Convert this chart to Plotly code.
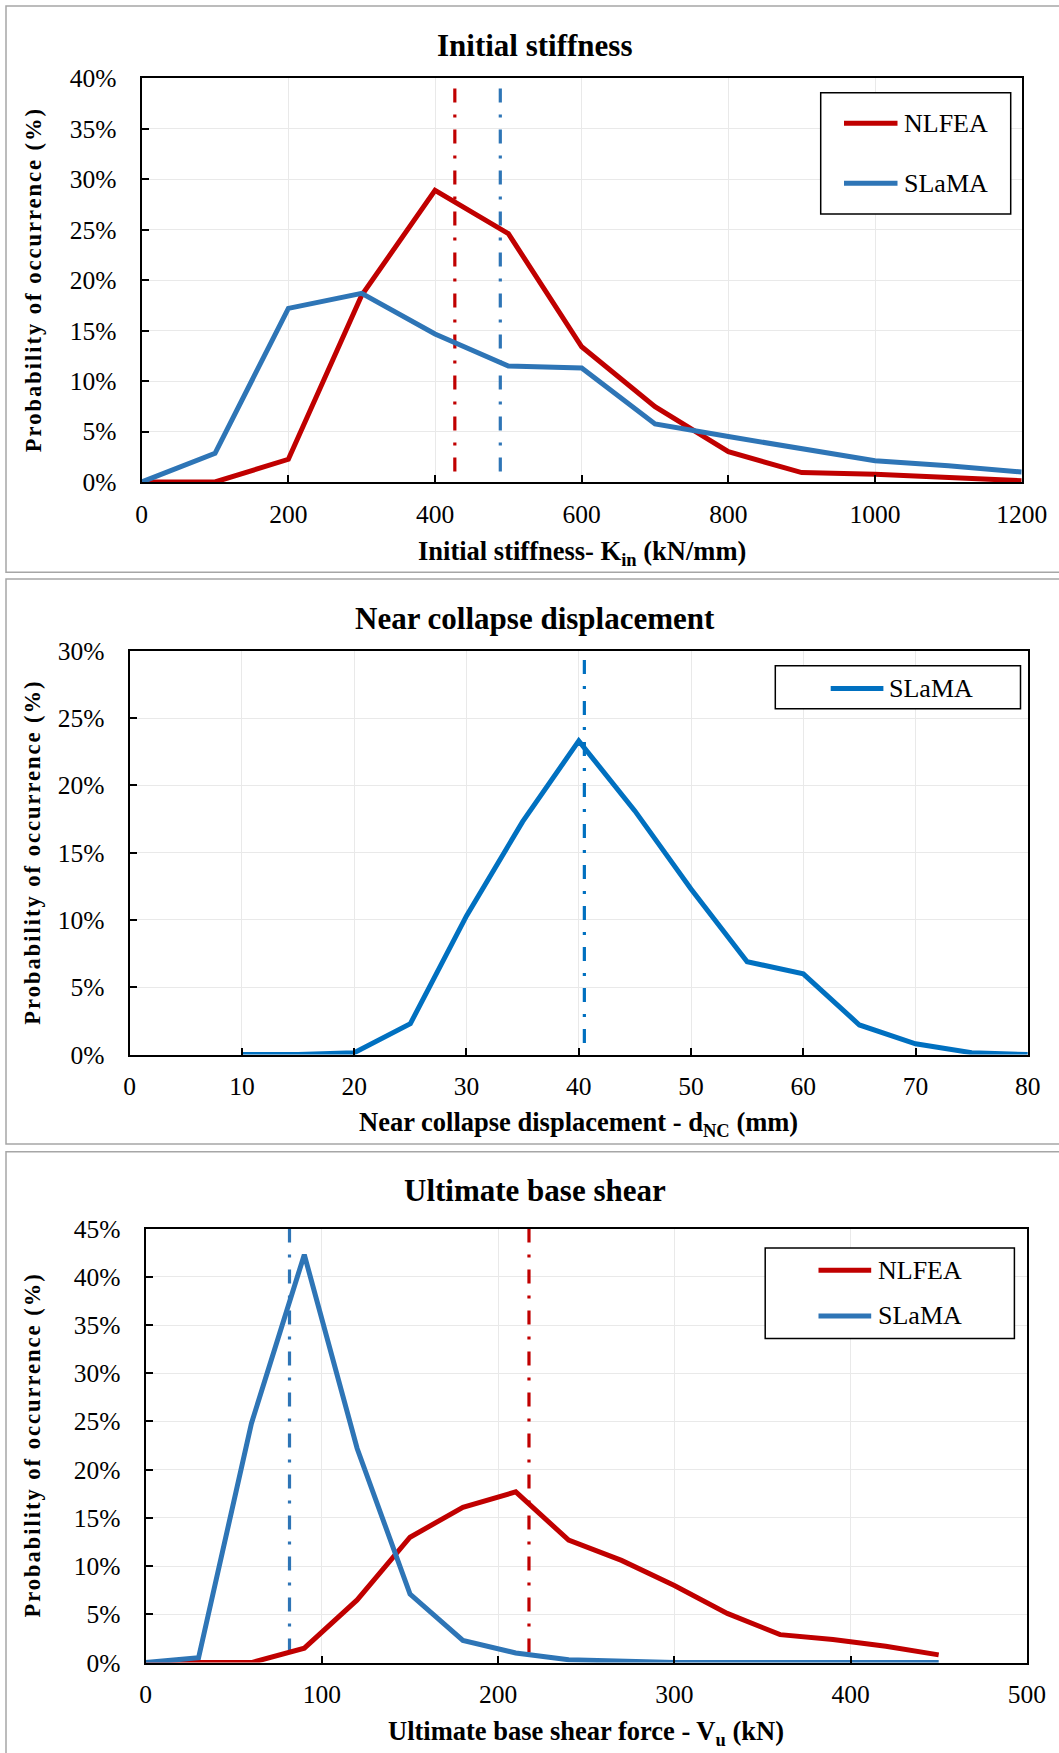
import plotly.graph_objects as go

W, H = 1059, 1753

# ---------------- data ----------------
# Panel 1: Initial stiffness
k_x = [0, 100, 200, 300, 400, 500, 600, 700, 800, 900, 1000, 1100, 1200]
k_nlfea = [0.0, 0.0, 2.25, 18.5, 28.9, 24.6, 13.4, 7.46, 3.0, 0.93, 0.76, 0.45, 0.13]
k_slama = [0.0, 2.84, 17.2, 18.7, 14.67, 11.5, 11.3, 5.75, 4.5, 3.24, 2.1, 1.6, 0.99]
k_mean_nlfea = 427
k_mean_slama = 489
k_mean_top = 39

# Panel 2: Near collapse displacement
d_x = [10, 15, 20, 25, 30, 35, 40, 45, 50, 55, 60, 65, 70, 75, 80]
d_slama = [0.0, 0.0, 0.14, 2.3, 10.3, 17.3, 23.3, 18.1, 12.3, 6.9, 6.0, 2.2, 0.8, 0.14, 0.0]
d_mean_slama = 40.5
d_mean_top = 29.3

# Panel 3: Ultimate base shear
v_x = [0, 30, 60, 90, 120, 150, 180, 210, 240, 270, 300, 330, 360, 390, 420, 450]
v_nlfea = [0.0, 0.0, 0.0, 1.5, 6.5, 13.0, 16.1, 17.7, 12.7, 10.6, 8.0, 5.1, 2.9, 2.4, 1.7, 0.8]
v_slama = [0.0, 0.5, 24.8, 42.3, 22.2, 7.1, 2.3, 1.0, 0.3, 0.1, 0.0, 0.0, 0.0, 0.0, 0.0, 0.0]
v_mean_nlfea = 217.5
v_mean_slama = 81.6
v_mean_top = 45

titles = ["Initial stiffness", "Near collapse displacement", "Ultimate base shear"]
xtitles = ["Initial stiffness- K<sub>in</sub> (kN/mm)",
           "Near collapse displacement - d<sub>NC</sub> (mm)",
           "Ultimate base shear force - V<sub>u</sub> (kN)"]
ytitle = "Probability of occurrence (%)"

RED = "#C00000"
BLUE = "#2E75B6"
BLUE2 = "#0070C0"
SERIF = "Liberation Serif, 'Times New Roman', Times, serif"

# ---------------- helpers ----------------
def px(p):
    return p / W

def py(p):
    return 1 - p / H

DASH = "14px,12px,3px,12px"

fig = go.Figure()

def line_trace(x, y, color, name, ax):
    return go.Scatter(x=x, y=y, mode="lines", name=name,
                      line=dict(color=color, width=5),
                      xaxis="x" + ax, yaxis="y" + ax, showlegend=False,
                      hoverinfo="x+y")

def mean_trace(xm, top, color, ax):
    # drawn from the top down so the dash pattern starts with a dash at the top
    return go.Scatter(x=[xm, xm], y=[top, 0], mode="lines",
                      line=dict(color=color, width=3.2, dash=DASH),
                      xaxis="x" + ax, yaxis="y" + ax, showlegend=False,
                      hoverinfo="skip")

# panel 1
fig.add_trace(mean_trace(k_mean_nlfea, k_mean_top, RED, ""))
fig.add_trace(mean_trace(k_mean_slama, k_mean_top, BLUE, ""))
fig.add_trace(line_trace(k_x, k_nlfea, RED, "NLFEA", ""))
fig.add_trace(line_trace(k_x, k_slama, BLUE, "SLaMA", ""))
# panel 2
fig.add_trace(mean_trace(d_mean_slama, d_mean_top, BLUE2, "2"))
fig.add_trace(line_trace(d_x, d_slama, BLUE2, "SLaMA", "2"))
# panel 3
fig.add_trace(mean_trace(v_mean_slama, v_mean_top, BLUE, "3"))
fig.add_trace(mean_trace(v_mean_nlfea, v_mean_top, RED, "3"))
fig.add_trace(line_trace(v_x, v_nlfea, RED, "NLFEA", "3"))
fig.add_trace(line_trace(v_x, v_slama, BLUE, "SLaMA", "3"))

tickfont = dict(family=SERIF, size=25.5, color="black")

def xaxis(dom, rng, dtick, anchor):
    return dict(domain=[px(dom[0]), px(dom[1])], range=rng, dtick=dtick, tick0=0,
                anchor=anchor, showline=True, linecolor="black", linewidth=2,
                mirror=True, ticks="inside", ticklen=7, tickwidth=1.5,
                tickcolor="black", showgrid=True, gridcolor="#E9E9E9",
                gridwidth=1, zeroline=False, tickfont=tickfont,
                ticklabelstandoff=8, automargin=False, fixedrange=True)

def yaxis(dom, rng, dtick, anchor):
    return dict(domain=[py(dom[1]), py(dom[0])], range=rng, dtick=dtick, tick0=0,
                anchor=anchor, showline=True, linecolor="black", linewidth=2,
                mirror=True, ticks="inside", ticklen=7, tickwidth=1.5,
                tickcolor="black", showgrid=True, gridcolor="#E9E9E9",
                gridwidth=1, zeroline=False, tickfont=tickfont,
                ticksuffix="%", ticklabelstandoff=18, automargin=False,
                fixedrange=True)

# plot-area pixel boxes (left, right) / (top, bottom)
P1x, P1y = (141.7, 1021.7), (78.3, 482.0)
P2x, P2y = (129.7, 1027.8), (650.7, 1054.6)
P3x, P3y = (145.7, 1026.8), (1228.6, 1662.6)

fig.update_layout(
    width=W, height=H, autosize=False,
    margin=dict(l=0, r=0, t=0, b=0, pad=0, autoexpand=False),
    paper_bgcolor="white", plot_bgcolor="white",
    showlegend=False,
    xaxis=xaxis(P1x, [0, 1200], 200, "y"),
    yaxis=yaxis(P1y, [0, 40], 5, "x"),
    xaxis2=xaxis(P2x, [0, 80], 10, "y2"),
    yaxis2=yaxis(P2y, [0, 30], 5, "x2"),
    xaxis3=xaxis(P3x, [0, 500], 100, "y3"),
    yaxis3=yaxis(P3y, [0, 45], 5, "x3"),
)

shapes = []
annotations = []

# panel frames
for (y0, y1) in [(6, 572.3), (579, 1144), (1151.7, 1775)]:
    shapes.append(dict(type="rect", xref="paper", yref="paper",
                       x0=px(6), x1=px(1075), y0=py(y0), y1=py(y1),
                       line=dict(color="#A6A6A6", width=1.5), layer="below"))

# panel titles
for t, yc in zip(titles, [46, 618, 1190]):
    annotations.append(dict(text="<b>%s</b>" % t, x=px(534.5), y=py(yc),
                            xref="paper", yref="paper", showarrow=False,
                            xanchor="center", yanchor="middle",
                            font=dict(family=SERIF, size=31, color="black")))

# x axis titles
for t, xb, yc in zip(xtitles, [P1x, P2x, P3x], [553, 1124, 1733]):
    annotations.append(dict(text="<b>%s</b>" % t, x=px((xb[0] + xb[1]) / 2), y=py(yc),
                            xref="paper", yref="paper", showarrow=False,
                            xanchor="center", yanchor="middle",
                            font=dict(family=SERIF, size=26.5, color="black")))

# y axis titles
for yb in [P1y, P2y, P3y]:
    annotations.append(dict(text="<b>%s</b>" % ytitle, x=px(33), y=py((yb[0] + yb[1]) / 2),
                            xref="paper", yref="paper", showarrow=False,
                            textangle=-90, xanchor="center", yanchor="middle",
                            font=dict(family=SERIF, size=22.5, color="black")))

# legends (box, line samples, labels)
legends = [
    dict(box=(820.7, 1010.7, 92.7, 214.0), line=(844, 897.5), text_x=902,
         items=[("NLFEA", RED, 123.3), ("SLaMA", BLUE, 183.3)]),
    dict(box=(775.3, 1020.5, 665.8, 708.7), line=(830.7, 883.4), text_x=887,
         items=[("SLaMA", BLUE2, 688.4)]),
    dict(box=(765.2, 1014.4, 1247.9, 1338.6), line=(818.5, 871.2), text_x=876,
         items=[("NLFEA", RED, 1270.2), ("SLaMA", BLUE, 1315.9)]),
]
for lg in legends:
    x0, x1, y0, y1 = lg["box"]
    shapes.append(dict(type="rect", xref="paper", yref="paper",
                       x0=px(x0), x1=px(x1), y0=py(y0), y1=py(y1),
                       line=dict(color="black", width=1.5), fillcolor="white",
                       layer="above"))
    for name, col, yy in lg["items"]:
        shapes.append(dict(type="line", xref="paper", yref="paper",
                           x0=px(lg["line"][0]), x1=px(lg["line"][1]),
                           y0=py(yy), y1=py(yy),
                           line=dict(color=col, width=5), layer="above"))
        annotations.append(dict(text=name, x=px(lg["text_x"]), y=py(yy),
                                xref="paper", yref="paper", showarrow=False,
                                xanchor="left", yanchor="middle",
                                font=dict(family=SERIF, size=26, color="black")))

fig.update_layout(shapes=shapes, annotations=annotations)

post = """
var gd = document.getElementById('{plot_id}');
function sp(){
  gd.querySelectorAll('text').forEach(function(t){
    if (t.textContent.indexOf('Probability') === 0) { t.style.letterSpacing = '2px'; }
  });
}
sp();
if (gd.on) { gd.on('plotly_afterplot', sp); }
"""

fig.write_html("out.html", post_script=post,
               config={"responsive": False, "displayModeBar": False})
